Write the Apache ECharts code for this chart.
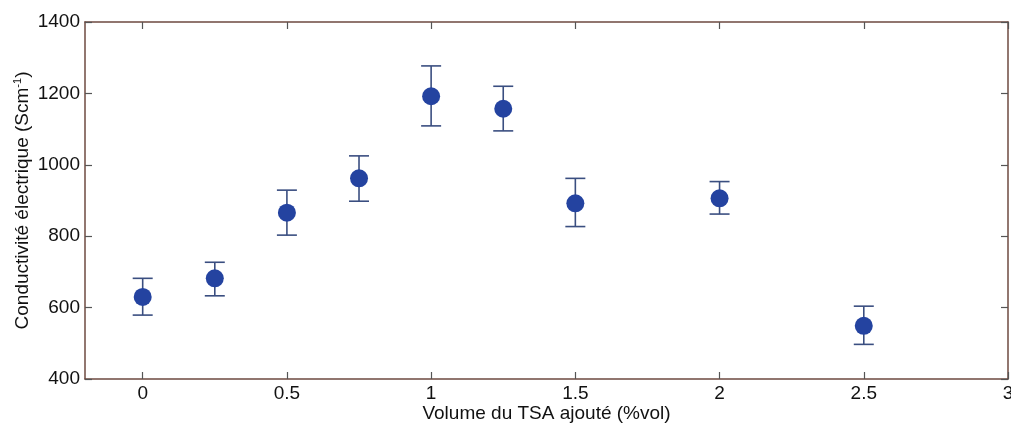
<!DOCTYPE html>
<html>
<head>
<meta charset="utf-8">
<script src="https://cdn.jsdelivr.net/npm/echarts@6/dist/echarts.min.js"></script>
<style>html,body{margin:0;padding:0;background:#fff}#c{width:1011px;height:425px}</style>
</head>
<body>
<div id="c"></div>
<script>
const xValues = [0, 0.25, 0.5, 0.75, 1, 1.25, 1.5, 2, 2.5];
const yValues = [630, 682, 866, 962, 1192, 1157, 892, 906, 549];
const errLow  = [579, 633, 803, 898, 1109, 1095, 827, 862, 497];
const errHigh = [682, 727, 929, 1025, 1277, 1220, 962, 953, 604];
const xTicks = [0, 0.5, 1, 1.5, 2, 2.5, 3];
const yTicks = [400, 600, 800, 1000, 1200, 1400];

const axisCol = '#6e4a40';
const font = 'Liberation Sans, Arial, sans-serif';
const chart = echarts.init(document.getElementById('c'));
const pts = xValues.map((x, i) => [x, yValues[i]]);
const errs = xValues.map((x, i) => [x, errLow[i], errHigh[i]]);

const baseX = {
  type: 'value', min: -0.2, max: 3, interval: 0.5,
  splitLine: {show: false},
  axisLine: {show: true, onZero: false, lineStyle: {color: axisCol, width: 1.5}},
  axisTick: {show: true, inside: true, length: 7, lineStyle: {color: '#555', width: 1.2},
    customValues: xTicks},
};
const baseY = {
  type: 'value', min: 400, max: 1400, interval: 200,
  splitLine: {show: false},
  axisLine: {show: true, onZero: false, lineStyle: {color: axisCol, width: 1.5}},
  axisTick: {show: true, inside: true, length: 7, lineStyle: {color: '#555', width: 1.2},
    customValues: yTicks},
};

chart.setOption({
  animation: false,
  backgroundColor: '#fff',
  grid: {left: 85, top: 22, right: 3, bottom: 46, containLabel: false, outerBoundsMode: 'none'},
  xAxis: [
    Object.assign({}, baseX, {
      position: 'bottom',
      name: 'Volume du TSA ajouté (%vol)', nameLocation: 'middle', nameGap: 25, nameMoveOverlap: false,
      nameTextStyle: {fontSize: 19, color: '#111', fontFamily: font},
      axisLabel: {show: true, customValues: xTicks, fontSize: 19, color: '#111', fontFamily: font, margin: 5,
        formatter: v => String(v)}
    }),
    Object.assign({}, baseX, {position: 'top', axisLabel: {show: false}})
  ],
  yAxis: [
    Object.assign({}, baseY, {
      position: 'left',
      name: '{n|Conductivité électrique (Scm}{s|-1}{n|)}', nameLocation: 'middle', nameGap: 52, nameRotate: 90,
      nameMoveOverlap: false,
      nameTextStyle: {rich: {
        n: {fontSize: 19, color: '#111', fontFamily: font},
        s: {fontSize: 11, color: '#111', fontFamily: font, verticalAlign: 'top', padding: [0, 0, 10, 0]}
      }},
      axisLabel: {show: true, customValues: yTicks, fontSize: 19, color: '#111', fontFamily: font, margin: 5,
        formatter: v => String(v)}
    }),
    Object.assign({}, baseY, {position: 'right', axisLabel: {show: false}})
  ],
  series: [
    {
      type: 'custom',
      xAxisIndex: 0, yAxisIndex: 0,
      data: errs,
      renderItem: function (params, api) {
        const x = api.value(0);
        const lo = api.coord([x, api.value(1)]);
        const hi = api.coord([x, api.value(2)]);
        const cw = 10;
        const style = {stroke: '#3a4e80', lineWidth: 1.6};
        return {type: 'group', children: [
          {type: 'line', shape: {x1: lo[0], y1: lo[1], x2: hi[0], y2: hi[1]}, style: style},
          {type: 'line', shape: {x1: lo[0] - cw, y1: lo[1], x2: lo[0] + cw, y2: lo[1]}, style: style},
          {type: 'line', shape: {x1: hi[0] - cw, y1: hi[1], x2: hi[0] + cw, y2: hi[1]}, style: style}
        ]};
      },
      z: 2
    },
    {
      type: 'scatter',
      xAxisIndex: 0, yAxisIndex: 0,
      data: pts,
      symbol: 'circle', symbolSize: 18,
      itemStyle: {color: '#2443a0', opacity: 1},
      z: 3
    }
  ]
});
</script>
</body>
</html>
